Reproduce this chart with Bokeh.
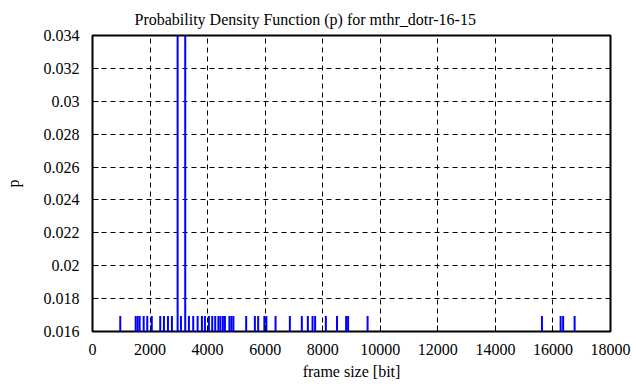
from bokeh.plotting import figure
from bokeh.models import FixedTicker, Range1d
from bokeh.embed import file_html
from bokeh.resources import INLINE

# frame sizes [bit] and probability values
frame_size = [965, 1500, 1569, 1639, 1778, 1903, 2060, 2354, 2483, 2622, 2760,
              2958, 3073, 3222, 3351, 3500, 3653, 3802, 3906, 4045, 4160, 4264,
              4375, 4444, 4531, 4601, 4757, 4826, 4896, 5340, 5642, 5757, 5972,
              6042, 6361, 6858, 7274, 7483, 7646, 7736, 8108, 8497, 8813, 8882,
              9559, 15618, 16267, 16354, 16753]
prob = [0.01695] * len(frame_size)
prob[frame_size.index(2958)] = 0.0345
prob[frame_size.index(3222)] = 0.0345

x_ticks = list(range(0, 18001, 2000))
y_ticks = [0.016, 0.018, 0.020, 0.022, 0.024, 0.026, 0.028, 0.030, 0.032, 0.034]
y_tick_labels = ["0.016", "0.018", "0.02", "0.022", "0.024", "0.026", "0.028",
                 "0.03", "0.032", "0.034"]

FONT = "Liberation Serif"

p = figure(width=636, height=387, output_backend="svg", toolbar_location=None,
           x_range=Range1d(0, 18000), y_range=Range1d(0.016, 0.034),
           min_border_left=92, min_border_right=26, min_border_top=32,
           min_border_bottom=56,
           title="Probability Density Function (p) for mthr_dotr-16-15")

p.title.text_font = FONT
p.title.text_font_size = "16px"
p.title.text_font_style = "normal"
p.title.text_color = "black"
p.title.align = "left"
p.title.offset = 42
p.title.standoff = 16
p.title.text_line_height = 0.5

p.segment(x0=frame_size, y0=[0] * len(frame_size), x1=frame_size, y1=prob,
          line_color="#0000ff", line_width=2)

p.outline_line_color = "black"
p.outline_line_width = 2
p.outline_line_alpha = 1

p.xaxis.major_tick_in = 6
p.xaxis.major_tick_out = 0
p.yaxis.major_tick_in = 6
p.yaxis.major_tick_out = 0
p.xaxis.minor_tick_line_color = None
p.yaxis.minor_tick_line_color = None
p.xaxis.axis_line_color = None
p.yaxis.axis_line_color = None
p.xaxis.major_tick_line_color = "black"
p.yaxis.major_tick_line_color = "black"
p.xaxis.major_label_text_font = FONT
p.yaxis.major_label_text_font = FONT
p.xaxis.major_label_text_font_size = "16px"
p.yaxis.major_label_text_font_size = "16px"
p.xaxis.major_label_text_color = "black"
p.yaxis.major_label_text_color = "black"
p.xaxis.axis_label_text_font = FONT
p.yaxis.axis_label_text_font = FONT
p.xaxis.axis_label_text_font_size = "16px"
p.yaxis.axis_label_text_font_size = "16px"
p.xaxis.axis_label_text_font_style = "normal"
p.yaxis.axis_label_text_font_style = "normal"
p.xaxis.axis_label_text_color = "black"
p.yaxis.axis_label_text_color = "black"

p.xaxis.ticker = FixedTicker(ticks=x_ticks)
p.yaxis.ticker = FixedTicker(ticks=y_ticks)
p.yaxis.major_label_overrides = {t: l for t, l in zip(y_ticks, y_tick_labels)}
p.xaxis.axis_label = "frame size [bit]"
p.yaxis.axis_label = "p"
p.xaxis.major_label_standoff = 12
p.yaxis.major_label_standoff = 13
p.xaxis.axis_label_standoff = 5
p.yaxis.axis_label_standoff = 19

p.xgrid.ticker = FixedTicker(ticks=x_ticks)
p.ygrid.ticker = FixedTicker(ticks=y_ticks)
p.xgrid.grid_line_color = "black"
p.ygrid.grid_line_color = "black"
p.xgrid.grid_line_dash = "5 4"
p.ygrid.grid_line_dash = "5 4"
p.xgrid.grid_line_width = 1
p.ygrid.grid_line_width = 1

open("out.html", "w").write(file_html(p, INLINE))
